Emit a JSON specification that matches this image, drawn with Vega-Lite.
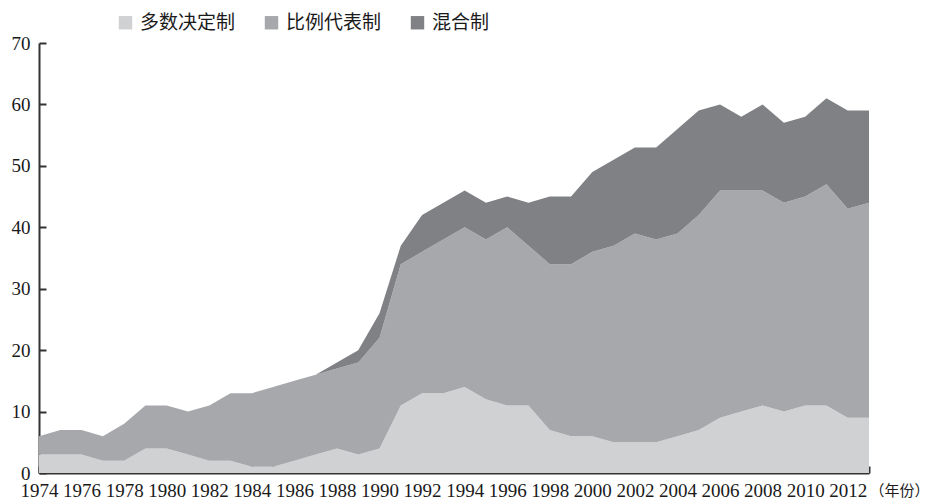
{
  "$schema": "https://vega.github.io/schema/vega-lite/v6.json",
  "width": 830,
  "height": 430,
  "autosize": {"type": "none"},
  "padding": {"left": 39, "top": 43, "right": 64, "bottom": 26},
  "background": "white",
  "config": {
    "view": {"stroke": null},
    "axis": {
      "domainColor": "#333333",
      "domainWidth": 2,
      "tickColor": "#333333",
      "tickWidth": 2,
      "tickSize": -7,
      "grid": false,
      "labelFont": "Liberation Serif",
      "labelFontSize": 19,
      "labelColor": "#1a1a1a"
    }
  },
  "data": {
    "values": [
      {"year": 1974, "多数决定制": 3, "比例代表制": 3, "混合制": 0},
      {"year": 1975, "多数决定制": 3, "比例代表制": 4, "混合制": 0},
      {"year": 1976, "多数决定制": 3, "比例代表制": 4, "混合制": 0},
      {"year": 1977, "多数决定制": 2, "比例代表制": 4, "混合制": 0},
      {"year": 1978, "多数决定制": 2, "比例代表制": 6, "混合制": 0},
      {"year": 1979, "多数决定制": 4, "比例代表制": 7, "混合制": 0},
      {"year": 1980, "多数决定制": 4, "比例代表制": 7, "混合制": 0},
      {"year": 1981, "多数决定制": 3, "比例代表制": 7, "混合制": 0},
      {"year": 1982, "多数决定制": 2, "比例代表制": 9, "混合制": 0},
      {"year": 1983, "多数决定制": 2, "比例代表制": 11, "混合制": 0},
      {"year": 1984, "多数决定制": 1, "比例代表制": 12, "混合制": 0},
      {"year": 1985, "多数决定制": 1, "比例代表制": 13, "混合制": 0},
      {"year": 1986, "多数决定制": 2, "比例代表制": 13, "混合制": 0},
      {"year": 1987, "多数决定制": 3, "比例代表制": 13, "混合制": 0},
      {"year": 1988, "多数决定制": 4, "比例代表制": 13, "混合制": 1},
      {"year": 1989, "多数决定制": 3, "比例代表制": 15, "混合制": 2},
      {"year": 1990, "多数决定制": 4, "比例代表制": 18, "混合制": 4},
      {"year": 1991, "多数决定制": 11, "比例代表制": 23, "混合制": 3},
      {"year": 1992, "多数决定制": 13, "比例代表制": 23, "混合制": 6},
      {"year": 1993, "多数决定制": 13, "比例代表制": 25, "混合制": 6},
      {"year": 1994, "多数决定制": 14, "比例代表制": 26, "混合制": 6},
      {"year": 1995, "多数决定制": 12, "比例代表制": 26, "混合制": 6},
      {"year": 1996, "多数决定制": 11, "比例代表制": 29, "混合制": 5},
      {"year": 1997, "多数决定制": 11, "比例代表制": 26, "混合制": 7},
      {"year": 1998, "多数决定制": 7, "比例代表制": 27, "混合制": 11},
      {"year": 1999, "多数决定制": 6, "比例代表制": 28, "混合制": 11},
      {"year": 2000, "多数决定制": 6, "比例代表制": 30, "混合制": 13},
      {"year": 2001, "多数决定制": 5, "比例代表制": 32, "混合制": 14},
      {"year": 2002, "多数决定制": 5, "比例代表制": 34, "混合制": 14},
      {"year": 2003, "多数决定制": 5, "比例代表制": 33, "混合制": 15},
      {"year": 2004, "多数决定制": 6, "比例代表制": 33, "混合制": 17},
      {"year": 2005, "多数决定制": 7, "比例代表制": 35, "混合制": 17},
      {"year": 2006, "多数决定制": 9, "比例代表制": 37, "混合制": 14},
      {"year": 2007, "多数决定制": 10, "比例代表制": 36, "混合制": 12},
      {"year": 2008, "多数决定制": 11, "比例代表制": 35, "混合制": 14},
      {"year": 2009, "多数决定制": 10, "比例代表制": 34, "混合制": 13},
      {"year": 2010, "多数决定制": 11, "比例代表制": 34, "混合制": 13},
      {"year": 2011, "多数决定制": 11, "比例代表制": 36, "混合制": 14},
      {"year": 2012, "多数决定制": 9, "比例代表制": 34, "混合制": 16},
      {"year": 2013, "多数决定制": 9, "比例代表制": 35, "混合制": 15}
    ]
  },
  "transform": [
    {"fold": ["多数决定制", "比例代表制", "混合制"], "as": ["system", "count"]}
  ],
  "mark": {"type": "area", "interpolate": "linear"},
  "encoding": {
    "x": {
      "field": "year",
      "type": "quantitative",
      "scale": {"domain": [1974, 2013], "nice": false, "zero": false},
      "axis": {
        "values": [1974,1975,1976,1977,1978,1979,1980,1981,1982,1983,1984,1985,1986,1987,1988,1989,1990,1991,1992,1993,1994,1995,1996,1997,1998,1999,2000,2001,2002,2003,2004,2005,2006,2007,2008,2009,2010,2011,2012,2013],
        "format": "d",
        "labelExpr": "datum.value % 2 == 0 ? datum.label : ''",
        "labelOverlap": false,
        "labelPadding": 15,
        "labelFlush": false,
        "title": "（年份）",
        "titleFont": "Noto Sans CJK SC",
        "titleFontSize": 15,
        "titleFontWeight": "normal",
        "titleColor": "#1a1a1a",
        "titleAnchor": "start",
        "titleAlign": "left",
        "titleBaseline": "middle",
        "titleX": 830,
        "titleY": 17
      }
    },
    "y": {
      "field": "count",
      "type": "quantitative",
      "stack": "zero",
      "scale": {"domain": [0, 70], "nice": false},
      "axis": {
        "values": [0, 10, 20, 30, 40, 50, 60, 70],
        "labelPadding": 16,
        "title": null
      }
    },
    "color": {
      "field": "system",
      "type": "nominal",
      "scale": {
        "domain": ["多数决定制", "比例代表制", "混合制"],
        "range": ["#d0d1d3", "#a7a8ac", "#808185"]
      },
      "legend": {
        "orient": "none",
        "direction": "horizontal",
        "legendX": 77,
        "legendY": -30,
        "title": null,
        "padding": 0,
        "symbolType": "square",
        "symbolSize": 180,
        "symbolStrokeWidth": 0,
        "symbolOpacity": 1,
        "labelFont": "Noto Sans CJK SC",
        "labelFontSize": 19,
        "labelColor": "#1a1a1a",
        "labelOffset": 5,
        "columnPadding": 26
      }
    },
    "order": {"field": "system", "sort": "ascending"}
  }
}
